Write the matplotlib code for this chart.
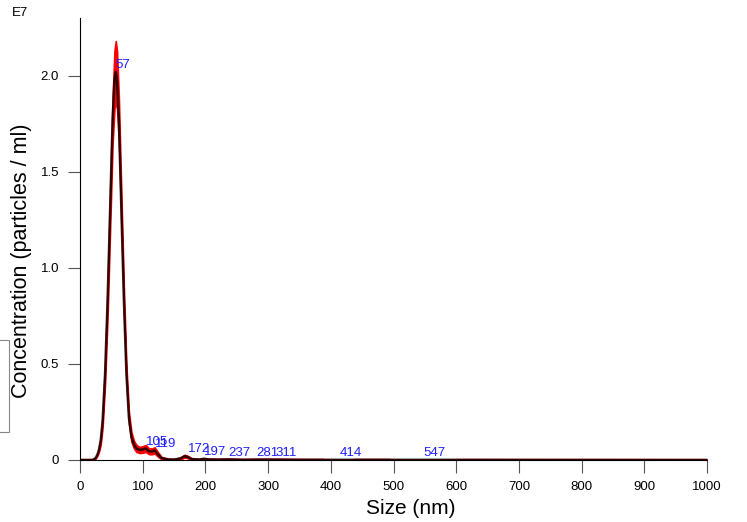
import matplotlib.pyplot as plt
from matplotlib.patches import Rectangle

plt.rcParams['font.family'] = ['Liberation Sans', 'DejaVu Sans']

# Size distribution (nm) and mean concentration (x1E7 particles / ml)
size_nm = [0, 20, 25, 28, 30, 33, 36, 40, 44, 48, 52, 55, 57, 59, 62, 66, 70, 74, 78,
           82, 86, 90, 95, 100, 105, 110, 115, 119, 124, 130, 140, 150, 160, 167, 172,
           178, 190, 197, 205, 220, 237, 260, 281, 311, 350, 388, 390, 414, 435, 437,
           494, 496, 547, 597, 599, 1000]
conc = [0, 0, 0.01, 0.03, 0.05, 0.1, 0.2, 0.45, 0.83, 1.3, 1.77, 1.98, 2.02, 1.98,
        1.77, 1.3, 0.83, 0.45, 0.22, 0.12, 0.08, 0.06, 0.052, 0.055, 0.06, 0.045, 0.045,
        0.05, 0.03, 0.01, 0.003, 0.002, 0.008, 0.02, 0.015, 0.005, 0.002, 0.006, 0.003,
        0.002, 0.003, 0.001, 0.002, 0.002, 0.001, 0.001, 0.001, 0.001, 0.001, 0.001,
        0.001, 0.001, 0.001, 0.001, 0.0005, 0]
# standard error around the mean
err = [0.004, 0.004, 0.004, 0.006, 0.01, 0.02, 0.03, 0.05, 0.08, 0.1, 0.12, 0.15, 0.16,
       0.15, 0.11, 0.08, 0.06, 0.04, 0.03, 0.025, 0.02, 0.018, 0.016, 0.017, 0.018,
       0.015, 0.015, 0.016, 0.012, 0.006, 0.004, 0.004, 0.005, 0.007, 0.006, 0.004,
       0.004, 0.004, 0.004, 0.004, 0.004, 0.004, 0.004, 0.004, 0.004, 0.004, 0, 0, 0,
       0.004, 0.004, 0, 0, 0, 0.004, 0.004]

peak_sizes = [57, 105, 119, 172, 197, 237, 281, 311, 414, 547]
peak_vals = [2.02, 0.06, 0.05, 0.02, 0.006, 0.003, 0.002, 0.002, 0.001, 0.001]

fig = plt.figure(figsize=(7.47, 5.22), dpi=100)
ax = fig.add_axes([0.1071, 0.1188, 0.8394, 0.8467])

upper = [c + e for c, e in zip(conc, err)]
lower = [max(c - e, 0) for c, e in zip(conc, err)]
ax.fill_between(size_nm, lower, upper, color='red', lw=1.2, edgecolor='red', zorder=2)
ax.plot(size_nm, conc, color='black', alpha=0.8, lw=1.8, zorder=3)

for s, v in zip(peak_sizes, peak_vals):
    ax.annotate(str(s), (s, v), xytext=(0, 0.5), textcoords='offset points',
                ha='left', va='bottom', color='#2020ff', fontsize=9.5, zorder=4)

ax.set_xlim(0, 1000)
ax.set_ylim(0, 2.3)
ax.set_xticks(range(0, 1001, 100))
ax.set_yticks([0, 0.5, 1.0, 1.5, 2.0])
ax.set_yticklabels(['0', '0.5', '1.0', '1.5', '2.0'])
ax.tick_params(direction='out', length=9, color='#555555', labelsize=9.5, pad=6)

for side in ['top', 'right']:
    ax.spines[side].set_visible(False)
ax.spines['left'].set_linewidth(0.8)
ax.spines['bottom'].set_linewidth(0.8)

ax.set_xlabel('Size (nm)', fontsize=15)
ax.set_ylabel('Concentration (particles / ml)', fontsize=15.5)
ax.xaxis.set_label_coords(0.527, -0.088)
ax.yaxis.set_label_coords(-0.077, 0.45)
fig.text(0.016, 0.975, 'E7', fontsize=9.5, va='center')

# cropped legend box at the left edge
fig.patches.append(Rectangle((-0.02, 1 - 432 / 522), 0.032, 92 / 522,
                             transform=fig.transFigure, fill=False,
                             edgecolor='#888888', lw=0.8))

fig.savefig('out.png', dpi=100)
